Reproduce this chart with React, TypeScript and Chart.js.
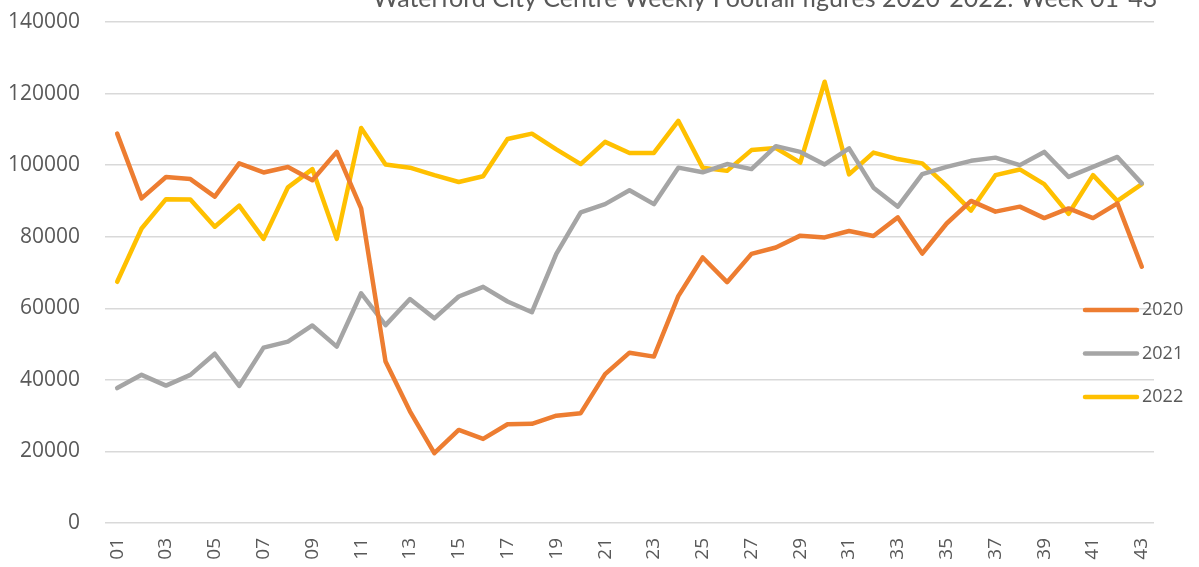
import React, { useEffect, useRef } from "react";
import { Chart, registerables } from "chart.js";

Chart.register(...registerables);

const weeks = [
  "01", "02", "03", "04", "05", "06", "07", "08", "09", "10",
  "11", "12", "13", "14", "15", "16", "17", "18", "19", "20",
  "21", "22", "23", "24", "25", "26", "27", "28", "29", "30",
  "31", "32", "33", "34", "35", "36", "37", "38", "39", "40",
  "41", "42", "43",
];

const footfall2020 = [
  108800, 90700, 96700, 96100, 91200, 100500, 97950, 99500, 95800, 103700,
  87900, 45100, 31200, 19500, 26000, 23500, 27600, 27700, 30000, 30700,
  41600, 47600, 46500, 63400, 74200, 67300, 75200, 77000, 80300, 79800,
  81600, 80200, 85400, 75300, 83700, 90000, 87000, 88400, 85200, 87900,
  85200, 89300, 71600,
];

const footfall2021 = [
  37700, 41400, 38400, 41400, 47300, 38300, 49000, 50700, 55200, 49300,
  64200, 55300, 62600, 57200, 63300, 66000, 61900, 58900, 75200, 86800,
  89100, 93000, 89100, 99300, 98000, 100300, 98900, 105300, 103700, 100200,
  104700, 93700, 88400, 97500, 99500, 101200, 102100, 100000, 103700, 96700,
  99500, 102300, 94900,
];

const footfall2022 = [
  67400, 82300, 90500, 90400, 82800, 88700, 79400, 93800, 98900, 79400,
  110400, 100200, 99300, 97200, 95300, 96900, 107300, 108800, 104400, 100300,
  106500, 103400, 103400, 112400, 99300, 98400, 104200, 104800, 100700, 123300,
  97400, 103500, 101700, 100500, 94200, 87300, 97200, 98800, 94700, 86400,
  97200, 90000, 94700,
];

const seriesNames = ["2020", "2021", "2022"];
const seriesColors = ["#ED7D31", "#A5A5A5", "#FFC000"];
const yTicks = [0, 20000, 40000, 60000, 80000, 100000, 120000, 140000];
const titleText = "Waterford City Centre Weekly Footfall figures 2020-2022: Week 01-43";

const TEXT_COLOR = "#595959";

const customDecor = {
  id: "customDecor",
  afterDraw(chart: any) {
    const ctx = chart.ctx;
    ctx.save();
    // title (clipped at top like the reference)
    let size = 24;
    ctx.font = `${size}px Lato`;
    const w = ctx.measureText(titleText).width;
    size = size * (785 / w);
    ctx.font = `${size}px Lato`;
    ctx.fillStyle = TEXT_COLOR;
    ctx.textAlign = "center";
    ctx.textBaseline = "alphabetic";
    ctx.fillText(titleText, 765, 7);

    // legend drawn over the plot on the right
    chart.data.datasets.forEach((ds: any, i: number) => {
      const y = 310 + i * 43.5;
      ctx.strokeStyle = ds.borderColor;
      ctx.lineWidth = 4.5;
      ctx.lineCap = "round";
      ctx.beginPath();
      ctx.moveTo(1085, y);
      ctx.lineTo(1137, y);
      ctx.stroke();
      ctx.fillStyle = TEXT_COLOR;
      ctx.font = "18px 'Open Sans'";
      ctx.textAlign = "left";
      ctx.textBaseline = "middle";
      ctx.fillText(ds.label, 1142, y);
    });
    ctx.restore();
  },
};

export default function App() {
  const canvasRef = useRef<HTMLCanvasElement | null>(null);

  useEffect(() => {
    document.body.style.margin = "0";
    const canvas = canvasRef.current;
    if (!canvas) return;
    const datasets = [footfall2020, footfall2021, footfall2022].map((d, i) => ({
      label: seriesNames[i],
      data: d,
      borderColor: seriesColors[i],
      backgroundColor: seriesColors[i],
      borderWidth: 4.5,
      pointRadius: 0,
      pointHoverRadius: 0,
      tension: 0,
      borderCapStyle: "round" as const,
      borderJoinStyle: "round" as const,
      fill: false,
    }));
    const chart = new Chart(canvas, {
      type: "line",
      data: { labels: weeks, datasets },
      plugins: [customDecor],
      options: {
        animation: false,
        responsive: false,
        devicePixelRatio: 1,
        layout: { autoPadding: false, padding: { top: 22, right: 45, left: 0, bottom: 0 } },
        plugins: {
          legend: { display: false },
          title: { display: false },
          tooltip: { enabled: false },
        },
        scales: {
          x: {
            type: "category",
            offset: true,
            grid: { display: false, drawTicks: false },
            border: { display: false },
            ticks: {
              autoSkip: false,
              maxRotation: 90,
              minRotation: 90,
              padding: 15,
              color: TEXT_COLOR,
              font: { family: "'Open Sans'", size: 19 },
              callback: (_v: any, i: number) => (i % 2 === 0 ? weeks[i] : ""),
            },
            afterFit: (scale: any) => {
              scale.height = 44;
              scale.paddingLeft = 0;
              scale.paddingRight = 0;
            },
          },
          y: {
            min: yTicks[0],
            max: yTicks[yTicks.length - 1],
            afterBuildTicks: (scale: any) => {
              scale.ticks = yTicks.map((v) => ({ value: v }));
            },
            grid: { color: "#D9D9D9", lineWidth: 1.5, drawTicks: false },
            border: { display: false },
            ticks: {
              padding: 25,
              color: TEXT_COLOR,
              font: { family: "'Open Sans'", size: 21 },
              callback: (v: any) => String(v),
            },
            afterFit: (scale: any) => {
              scale.width = 105;
              scale.paddingTop = 0;
              scale.paddingBottom = 0;
            },
          },
        },
      },
    });
    return () => chart.destroy();
  }, []);

  return (
    <div style={{ position: "relative", width: 1199, height: 567 }}>
      <canvas ref={canvasRef} width={1199} height={567} />
    </div>
  );
}
